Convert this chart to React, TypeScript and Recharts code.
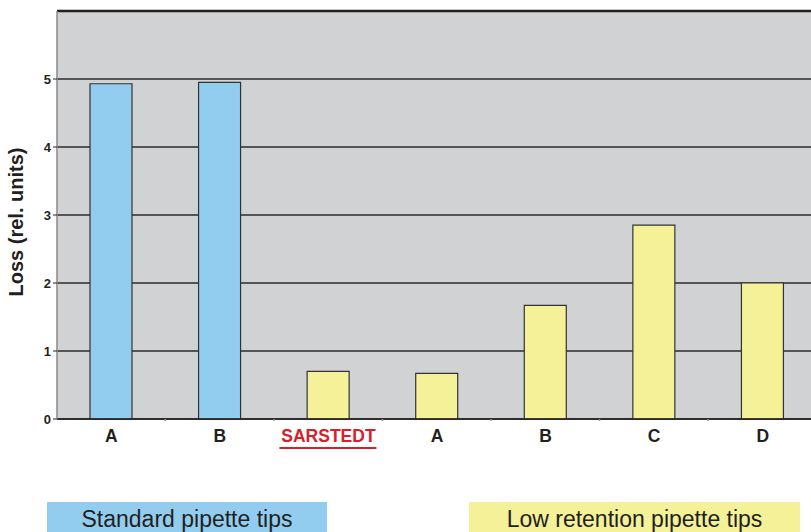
import { BarChart, Bar, XAxis, YAxis, CartesianGrid, ReferenceLine, Cell } from 'recharts';

const categories = ['A', 'B', 'SARSTEDT', 'A', 'B', 'C', 'D'];
const groups = ['standard', 'standard', 'low', 'low', 'low', 'low', 'low'];
const losses = [4.93, 4.95, 0.7, 0.67, 1.67, 2.85, 2.0];
const yTicks = [0, 1, 2, 3, 4, 5];

const COLORS: Record<string, string> = { standard: '#92cdf0', low: '#f5f199' };
const FONT = '"Liberation Sans", Arial, Helvetica, sans-serif';
const INK = '#231f20';

const data = categories.map((name, i) => ({ key: `${name}-${i}`, name, group: groups[i], loss: losses[i] }));

function XTick(props: any) {
  const { x, y, payload } = props;
  const label = categories[payload.index] ?? payload.value;
  const red = label === 'SARSTEDT';
  return (
    <g>
      <line x1={x + 54} x2={x + 54} y1={y - 8} y2={y - 6} stroke="#999" strokeWidth={1.5} />
      <text x={x} y={y + 15} textAnchor="middle" fontFamily={FONT} fontWeight="bold" fontSize={17.5} fill={red ? '#d9202a' : INK}>
        {label}
      </text>
      {red && <line x1={x - 49} x2={x + 48} y1={y + 21} y2={y + 21} stroke="#d9202a" strokeWidth={2.2} />}
    </g>
  );
}

function YLabel(props: any) {
  const { viewBox } = props;
  const cy = viewBox.y + viewBox.height / 2 + 7;
  return (
    <text x={23} y={cy} transform={`rotate(-90 23 ${cy})`} textAnchor="middle" fontFamily={FONT} fontWeight="bold" fontSize={20} fill={INK}>
      Loss (rel. units)
    </text>
  );
}

export default function App() {
  return (
    <div style={{ position: 'absolute', left: 0, top: 0, width: 811, height: 532, overflow: 'hidden', background: '#fff', fontFamily: FONT }}>
      <BarChart
        width={830}
        height={470}
        data={data}
        margin={{ top: 11, right: 13, left: 0, bottom: 0 }}
        barSize={42}
      >
        <CartesianGrid vertical={false} fill="#d1d2d4" stroke="#2b2b2b" strokeWidth={1.3} />
        <XAxis
          dataKey="key"
          tick={<XTick />}
          tickLine={false}
          axisLine={{ stroke: INK, strokeWidth: 1.5 }}
          interval={0}
          height={51}
        />
        <YAxis
          domain={[0, 6]}
          ticks={yTicks}
          width={57}
          tickSize={4}
          tickLine={{ stroke: INK }}
          axisLine={{ stroke: '#8a8a8a', strokeWidth: 1.5 }}
          tick={{ fill: INK, fontSize: 13, fontWeight: 'bold', fontFamily: FONT }}
          label={<YLabel />}
        />
        <ReferenceLine y={6} stroke={INK} strokeWidth={2.5} />
        <Bar dataKey="loss" stroke="#333" strokeWidth={1.2} isAnimationActive={false}>
          {data.map((d) => (
            <Cell key={d.key} fill={COLORS[d.group]} />
          ))}
        </Bar>
      </BarChart>
      <div style={{ position: 'absolute', left: 47, top: 502, width: 280, height: 30, background: '#92cdf0', color: INK, fontSize: 23, lineHeight: '34px', textAlign: 'center', whiteSpace: 'nowrap' }}>
        Standard pipette tips
      </div>
      <div style={{ position: 'absolute', left: 469, top: 502, width: 331, height: 30, background: '#f5f199', color: INK, fontSize: 23, lineHeight: '34px', textAlign: 'center', whiteSpace: 'nowrap' }}>
        Low retention pipette tips
      </div>
    </div>
  );
}
